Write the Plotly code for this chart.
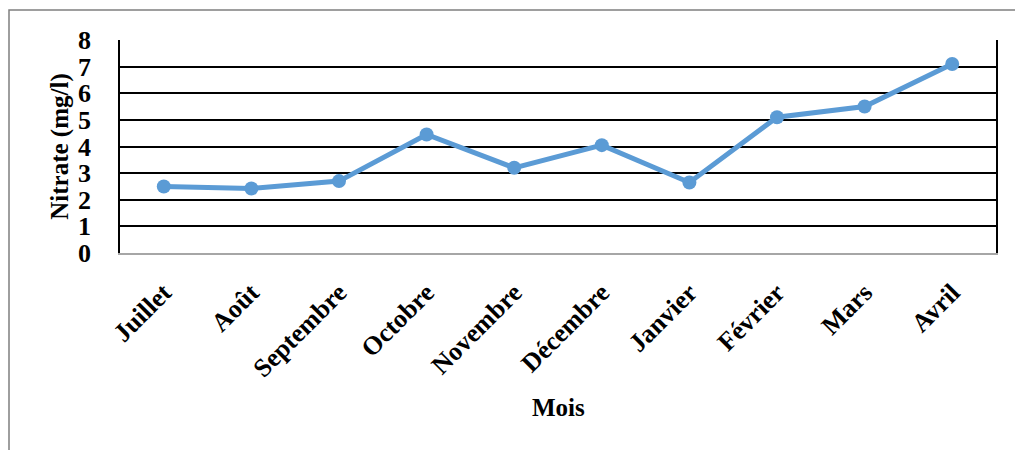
import plotly.graph_objects as go

mois = ["Juillet", "Août", "Septembre", "Octobre", "Novembre",
        "Décembre", "Janvier", "Février", "Mars", "Avril"]
nitrate = [2.5, 2.42, 2.7, 4.45, 3.2, 4.05, 2.65, 5.1, 5.5, 7.1]
y_ticks = [0, 1, 2, 3, 4, 5, 6, 7, 8]

FONT = "Liberation Serif"
BLUE = "#5B9BD5"

fig = go.Figure()
fig.add_trace(go.Scatter(
    x=mois, y=nitrate, mode="lines+markers",
    line=dict(color=BLUE, width=5),
    marker=dict(color=BLUE, size=14),
    showlegend=False, cliponaxis=False,
))

fig.update_layout(
    width=1015, height=450,
    margin=dict(l=120, r=19, t=40, b=197),
    paper_bgcolor="white", plot_bgcolor="white",
    font=dict(family=FONT, color="black"),
    xaxis=dict(
        type="category", range=[-0.5, 9.5],
        showgrid=False, showline=True, linecolor="#a6a6a6", linewidth=2,
        tickangle=-45, ticks="", ticklabelstandoff=12,
        tickfont=dict(family=FONT, size=26, color="black", weight="bold"),
    ),
    yaxis=dict(
        range=[0, 8], tickvals=y_ticks, ticktext=[str(v) for v in y_ticks],
        showgrid=True, gridcolor="black", gridwidth=1.5,
        zeroline=False, showline=True, linecolor="black", linewidth=1.5, mirror=True,
        ticks="", ticklabelstandoff=22,
        tickfont=dict(family=FONT, size=26, color="black", weight="bold"),
        title=dict(text="<b>Nitrate (mg/l)</b>", font=dict(family=FONT, size=25), standoff=2),
    ),
    annotations=[dict(
        text="<b>Mois</b>", xref="paper", yref="paper", x=0.5, y=(253.3 - 408) / 213,
        showarrow=False, xanchor="center", yanchor="middle",
        font=dict(family=FONT, size=25, color="black"),
    )],
    shapes=[dict(
        type="rect", xref="paper", yref="paper",
        x0=(9 - 120) / 876, x1=1.2, y0=-1.5, y1=1 + (40 - 10) / 213,
        line=dict(color="#7f7f7f", width=1.5), fillcolor="rgba(0,0,0,0)", layer="below",
    )],
)

fig.write_html("out.html")
